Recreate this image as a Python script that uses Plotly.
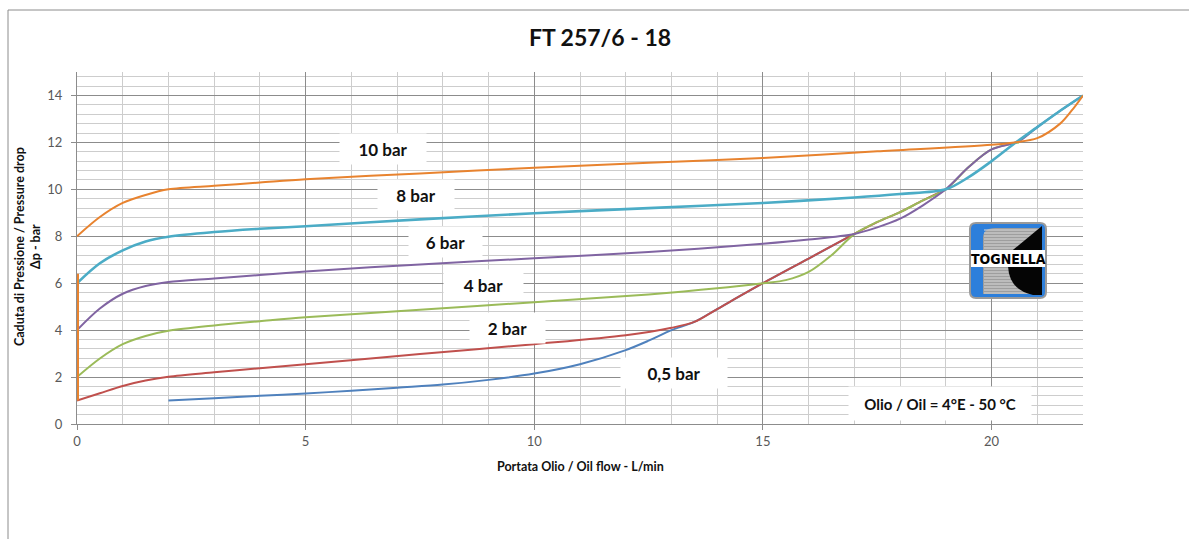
import plotly.graph_objects as go

# ---------------- data ----------------
X_05 = [2, 3, 4, 5, 6, 7, 8, 9, 10, 11, 12, 12.5, 13, 13.5, 14, 15, 16, 17]
Y_05 = [1.0, 1.1, 1.2, 1.3, 1.42, 1.55, 1.68, 1.88, 2.15, 2.55, 3.15, 3.55, 4.0, 4.35, 4.9, 6.0, 7.05, 8.1]

X_2 = [0, 0.5, 1, 1.5, 2, 3, 4, 5, 7.5, 10, 12, 13, 13.5, 14, 15, 16, 17, 17.5, 18, 18.5, 19]
Y_2 = [1, 1.31, 1.62, 1.85, 2.01, 2.2, 2.38, 2.55, 2.98, 3.4, 3.78, 4.1, 4.35, 4.9, 6.0, 7.05, 8.1, 8.6, 9.03, 9.53, 10.0]

X_4 = [0, 0.5, 1, 1.5, 2, 3, 4, 5, 7.5, 10, 12.5, 14, 15, 15.5, 16, 16.5, 17, 17.5, 18, 18.5, 19, 19.5, 20, 20.6]
Y_4 = [2, 2.79, 3.4, 3.75, 3.97, 4.2, 4.38, 4.55, 4.87, 5.19, 5.52, 5.78, 6.0, 6.13, 6.48, 7.19, 8.09, 8.61, 9.03, 9.53, 10.0, 10.95, 11.7, 12.0]

X_6 = [0, 0.5, 1, 1.5, 2, 3, 4, 5, 7.5, 10, 12.5, 15, 16, 17, 17.5, 18, 18.5, 19, 19.5, 20, 20.6, 21, 21.5, 22]
Y_6 = [4, 4.92, 5.55, 5.88, 6.05, 6.2, 6.35, 6.5, 6.8, 7.06, 7.33, 7.68, 7.86, 8.1, 8.38, 8.75, 9.32, 10.0, 10.95, 11.7, 12.05, 12.65, 13.35, 14.0]

X_8 = [0, 0.5, 1, 1.5, 2, 3, 4, 5, 7.5, 10, 12.5, 15, 17, 18, 19, 19.5, 20, 20.5, 21, 21.5, 22]
Y_8 = [6, 6.85, 7.4, 7.78, 7.98, 8.18, 8.32, 8.43, 8.72, 8.98, 9.2, 9.42, 9.65, 9.8, 10.0, 10.52, 11.2, 11.95, 12.65, 13.35, 14.0]

X_10 = [0, 0.5, 1, 1.5, 2, 3, 4, 5, 7.5, 10, 12.5, 15, 17.5, 20, 20.5, 21, 21.5, 21.75, 22]
Y_10 = [8, 8.82, 9.42, 9.76, 10.0, 10.15, 10.29, 10.43, 10.68, 10.92, 11.13, 11.34, 11.62, 11.9, 12.0, 12.18, 12.8, 13.35, 14.0]

X_EDGE = [0, 0]
Y_EDGE = [1, 6.4]

SERIES = [
    ("0,5 bar", X_05, Y_05, "#4F81BD", 2),
    ("2 bar", X_2, Y_2, "#C0504D", 2),
    ("4 bar", X_4, Y_4, "#9BBB59", 2),
    ("6 bar", X_6, Y_6, "#8064A2", 2),
    ("8 bar", X_8, Y_8, "#4BACC6", 2.6),
    ("10 bar", X_10, Y_10, "#E8832F", 2),
]

LABELS = ["10 bar", "8 bar", "6 bar", "4 bar", "2 bar", "0,5 bar"]
LABEL_X = [6.70, 7.41, 8.05, 8.89, 9.41, 13.05]
LABEL_Y = [11.70, 9.74, 7.74, 5.94, 4.10, 2.16]
LABEL_W = [86, 76, 73, 79, 75, 106]

NOTE = "Olio / Oil = 4°E - 50 °C"
NOTE_X, NOTE_Y = 18.87, 0.88

TITLE = "FT 257/6 - 18"
X_TITLE = "Portata Olio / Oil flow - L/min"
Y_TITLE = "Caduta di Pressione / Pressure drop<br>Δp - bar"

FONT = "Lato, 'Open Sans', sans-serif"

# ---------------- layout geometry ----------------
W, H = 1189, 539
L, R, T, B = 77, 106, 72, 115
PW, PH = W - L - R, H - T - B


def px(xp):
    return (xp - L) / PW


def py(yp):
    return (H - B - yp) / PH


fig = go.Figure()

for name, xs, ys, col, w in SERIES:
    fig.add_trace(go.Scatter(x=xs, y=ys, mode="lines", name=name,
                             line=dict(color=col, width=w, shape="spline", smoothing=0.9),
                             hoverinfo="skip", showlegend=False))

fig.add_trace(go.Scatter(x=X_EDGE, y=Y_EDGE, mode="lines",
                         line=dict(color="#E8832F", width=4),
                         hoverinfo="skip", showlegend=False))

annotations = []
for t, x, y, w in zip(LABELS, LABEL_X, LABEL_Y, LABEL_W):
    annotations.append(dict(x=x, y=y, xref="x", yref="y", text=t, showarrow=False,
                            font=dict(family=FONT, size=17, color="#111111", weight="bold"),
                            bgcolor="white", width=w, height=30, borderpad=0))

annotations.append(dict(x=NOTE_X, y=NOTE_Y, xref="x", yref="y", text=NOTE, showarrow=False,
                        font=dict(family=FONT, size=15, color="#111111", weight="bold"),
                        bgcolor="white", width=182, height=33, borderpad=0))

annotations.append(dict(x=px(27), y=py(247), xref="paper", yref="paper", text=Y_TITLE,
                        showarrow=False, textangle=-90, xanchor="center", yanchor="middle",
                        font=dict(family=FONT, size=12.5, color="#111111", weight="bold")))

annotations.append(dict(x=px(580), y=py(466), xref="paper", yref="paper", text=X_TITLE,
                        showarrow=False, xanchor="center", yanchor="middle",
                        font=dict(family=FONT, size=12.5, color="#111111", weight="bold")))

# logo text
annotations.append(dict(x=px(1008), y=py(258.5), xref="paper", yref="paper", text="TOGNELLA",
                        showarrow=False, xanchor="center", yanchor="middle",
                        font=dict(family="'DejaVu Sans Condensed', 'Liberation Sans Narrow', sans-serif",
                                  size=14, color="#000000", weight="bold")))


def path(points):
    out = []
    for p in points:
        cmd = p[0]
        if cmd == "Z":
            out.append("Z")
            continue
        coords = p[1:]
        s = []
        for i in range(0, len(coords), 2):
            s.append(f"{px(coords[i]):.5f},{py(coords[i + 1]):.5f}")
        out.append(cmd + " " + " ".join(s))
    return " ".join(out)


shapes = []
# outer chart border
shapes.append(dict(type="rect", xref="paper", yref="paper", x0=px(8), y0=py(560), x1=px(1250),
                   y1=py(10), line=dict(color="#8C8C8C", width=1), fillcolor="rgba(0,0,0,0)",
                   layer="below"))

# logo: blue rounded square
shapes.append(dict(type="path", xref="paper", yref="paper",
                   path=path([("M", 976, 223), ("L", 1040, 223), ("Q", 1046, 223, 1046, 229),
                              ("L", 1046, 292), ("Q", 1046, 298, 1040, 298), ("L", 976, 298),
                              ("Q", 970, 298, 970, 292), ("L", 970, 229), ("Q", 970, 223, 976, 223),
                              ("Z",)]),
                   fillcolor="#2D7FDB", line=dict(color="#9A9A9A", width=2), layer="above"))
# grey striped block
shapes.append(dict(type="path", xref="paper", yref="paper",
                   path=path([("M", 983, 294), ("L", 983, 238), ("Q", 983, 228, 995, 228),
                              ("L", 1040, 228), ("L", 1040, 294), ("Z",)]),
                   fillcolor="#9E9E9E", line=dict(width=0), layer="above"))
for yy in range(230, 294, 3):
    shapes.append(dict(type="line", xref="paper", yref="paper", x0=px(984), x1=px(1039),
                       y0=py(yy), y1=py(yy), line=dict(color="#DADADA", width=1), layer="above"))
# black quarter shape
shapes.append(dict(type="path", xref="paper", yref="paper",
                   path=path([("M", 1042, 226), ("L", 1042, 295), ("L", 1033, 295),
                              ("Q", 1009, 290, 1008, 266), ("L", 1008, 254), ("Z",)]),
                   fillcolor="#050505", line=dict(width=0), layer="above"))
# white band
shapes.append(dict(type="rect", xref="paper", yref="paper", x0=px(971), x1=px(1045),
                   y0=py(267), y1=py(250), fillcolor="white", line=dict(width=0), layer="above"))

fig.update_layout(
    width=W, height=H,
    margin=dict(l=L, r=R, t=T, b=B),
    paper_bgcolor="white", plot_bgcolor="white",
    title=dict(text=TITLE, x=600 / W, xanchor="center", y=1 - 38 / H, yanchor="middle",
               yref="container",
               font=dict(family=FONT, size=23, color="#111111", weight="bold")),
    annotations=annotations,
    shapes=shapes,
    showlegend=False,
)

fig.update_xaxes(range=[0, 22], tick0=0, dtick=5, showgrid=True, gridcolor="#8C8C8C", gridwidth=1,
                 minor=dict(tick0=0, dtick=1, showgrid=True, gridcolor="#CDCDCD", gridwidth=1),
                 showline=True, linecolor="#8C8C8C", linewidth=1, ticks="outside", ticklen=5,
                 tickcolor="#8C8C8C", zeroline=False,
                 tickfont=dict(family=FONT, size=13, color="#595959"))
fig.update_yaxes(range=[0, 15], tick0=0, dtick=2, showgrid=True, gridcolor="#8C8C8C", gridwidth=1,
                 minor=dict(tick0=0, dtick=0.4, showgrid=True, gridcolor="#CDCDCD", gridwidth=1),
                 showline=True, linecolor="#8C8C8C", linewidth=1, ticks="outside", ticklen=5,
                 tickcolor="#8C8C8C", zeroline=False, ticklabelstandoff=6,
                 tickfont=dict(family=FONT, size=13, color="#595959"))

fig.write_html("out.html", config={"displayModeBar": False},
               post_script="document.body.style.margin='0';")
